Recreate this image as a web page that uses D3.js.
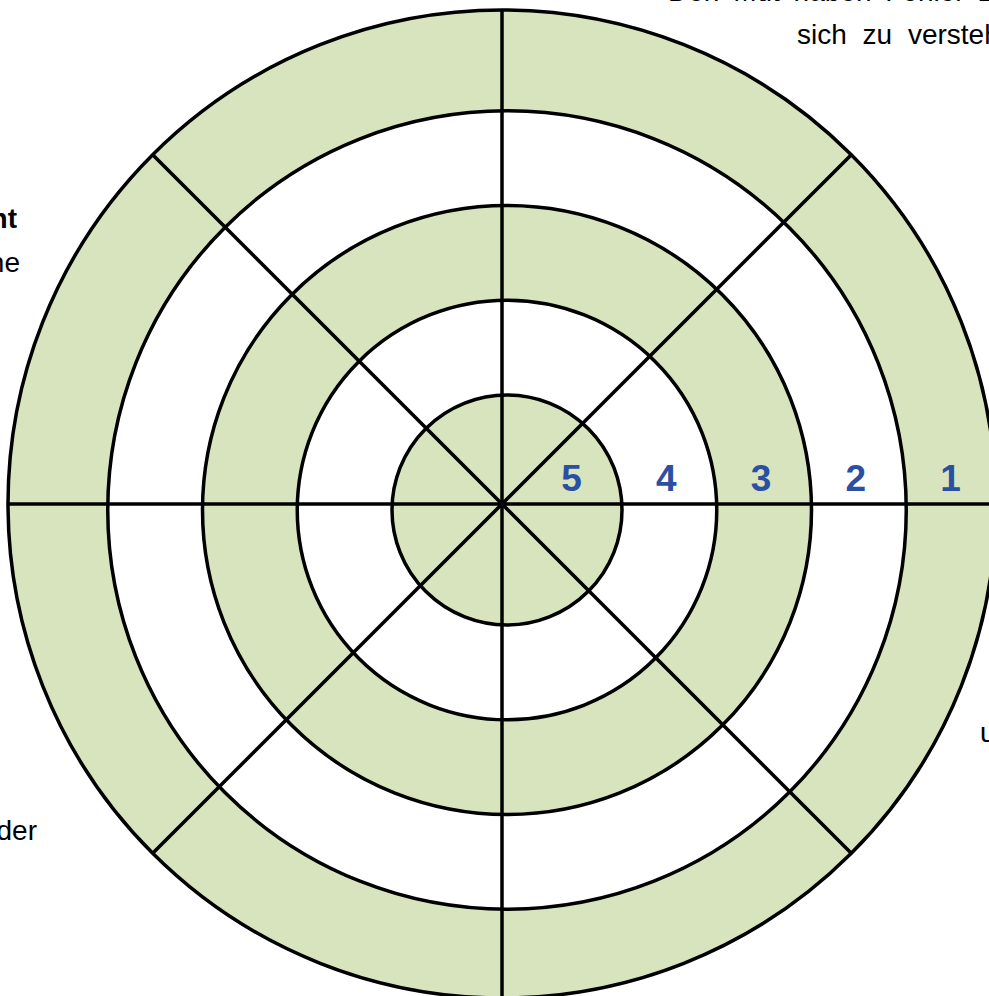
<!DOCTYPE html>
<html>
<head>
<meta charset="utf-8">
<script src="https://d3js.org/d3.v7.min.js"></script>
<style>
    body { margin: 0; background: #fff; }
    svg { display: block; overflow: hidden; }
    text { font-family: "Liberation Sans", Arial, sans-serif; }
</style>
</head>
<body>
<div id="chart"></div>
<script>
// Stufen des Rades, von innen (5) nach aussen (1)
var levels = [5, 4, 3, 2, 1];
var levelLabels = ["5", "4", "3", "2", "1"];
// acht Sektoren -> acht Speichen
var sectors = [0, 1, 2, 3, 4, 5, 6, 7];
// angeschnittene Beschriftungen am Rand
var sideLines = [
    "Den Mut haben Fehler zu machen und",
    "sich zu verstehen",
    "Zuversicht",
    "keine",
    "oder",
    "und"
];

var width = 989, height = 996;
var green = "#d7e4bd", blue = "#2a4fa3";

var svg = d3.select("#chart")
    .append("svg")
    .attr("width", width)
    .attr("height", height);

// outer ring + spokes share one centre, the inner rings sit a few px off (as in the original)
var outer = { x: 502, y: 504 };
var inner = { x: 507, y: 510 };
var centreOf = function (level) { return level === 1 ? outer : inner; };

var r = d3.scaleLinear()
    .domain([5, 1])
    .range([115, 494]);

var angle = d3.scaleLinear()
    .domain([0, sectors.length])
    .range([0, 2 * Math.PI]);

// filled discs from outside in, alternating green / white
svg.append("g")
    .selectAll("circle")
    .data(levels.slice().reverse())
    .enter()
    .append("circle")
    .attr("cx", function (d) { return centreOf(d).x; })
    .attr("cy", function (d) { return centreOf(d).y; })
    .attr("r", function (d) { return r(d); })
    .attr("fill", function (d) { return d % 2 === 1 ? green : "#ffffff"; })
    .attr("stroke", "#000")
    .attr("stroke-width", 3.5);

// spokes
svg.append("g")
    .selectAll("line")
    .data(sectors)
    .enter()
    .append("line")
    .attr("x1", outer.x)
    .attr("y1", outer.y)
    .attr("x2", function (d) { return outer.x + r(1) * Math.cos(angle(d)); })
    .attr("y2", function (d) { return outer.y + r(1) * Math.sin(angle(d)); })
    .attr("stroke", "#000")
    .attr("stroke-width", 3.5);

// level numbers along the right spoke
svg.append("g")
    .selectAll("text")
    .data(levels)
    .enter()
    .append("text")
    .attr("x", function (d) { return 504 + r(d + 0.5); })
    .attr("y", 491)
    .attr("text-anchor", "middle")
    .attr("font-size", "37px")
    .attr("font-weight", "bold")
    .attr("fill", blue)
    .text(function (d, i) { return levelLabels[i]; });

// text around the wheel (cut off by the frame)
var side = svg.append("g")
    .attr("font-size", "28px")
    .attr("fill", "#000");

side.append("text").attr("x", 668).attr("y", 0.8)
    .attr("word-spacing", "6px").text(sideLines[0]);
side.append("text").attr("x", 797).attr("y", 44)
    .attr("word-spacing", "8px").text(sideLines[1]);
side.append("text").attr("x", 17).attr("y", 228)
    .attr("text-anchor", "end").attr("font-weight", "bold").text(sideLines[2]);
side.append("text").attr("x", 20).attr("y", 272)
    .attr("text-anchor", "end").text(sideLines[3]);
side.append("text").attr("x", 37).attr("y", 840)
    .attr("text-anchor", "end").text(sideLines[4]);
side.append("text").attr("x", 980).attr("y", 742).text(sideLines[5]);
</script>
</body>
</html>
